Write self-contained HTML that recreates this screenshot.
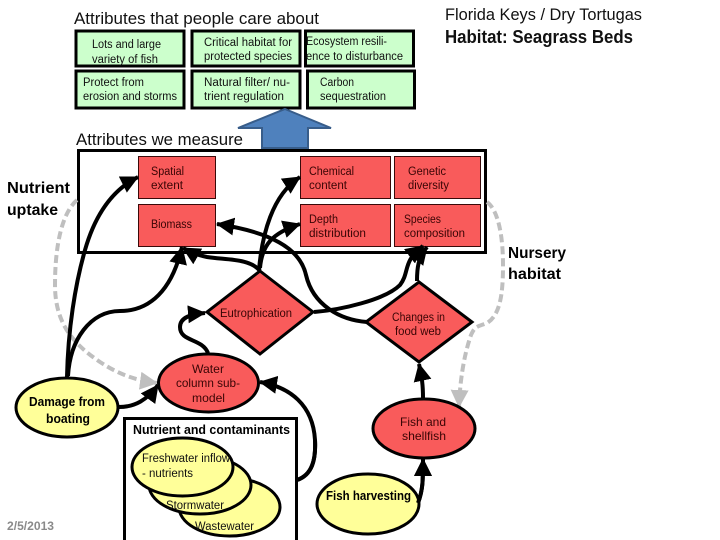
<!DOCTYPE html>
<html><head><meta charset="utf-8">
<style>html,body{margin:0;padding:0;background:#fff}svg{display:block}
text{font-family:"Liberation Sans",sans-serif;fill:#111}
.s{font-size:11.5px}.r{font-size:11.5px;fill:#3a0505}.h{font-size:17px}.b{font-size:15.5px;font-weight:bold;fill:#000}.m{font-size:13px;font-weight:bold;fill:#000}
</style></head><body>
<svg width="720" height="540" viewBox="0 0 720 540" xmlns="http://www.w3.org/2000/svg">
<defs>
<marker id="a" markerUnits="userSpaceOnUse" markerWidth="20" markerHeight="18" refX="17" refY="9" orient="auto"><path d="M0,0L18,9L0,18z" fill="#000"/></marker>
<marker id="g" markerUnits="userSpaceOnUse" markerWidth="20" markerHeight="18" refX="17" refY="9" orient="auto"><path d="M0,0L18,9L0,18z" fill="#bfbfbf"/></marker>
</defs>
<rect width="720" height="540" fill="#fff"/>

<g fill="#ccffcc" stroke="#000" stroke-width="3">
<rect x="76" y="31" width="108" height="35"/>
<rect x="192" y="31" width="108" height="35"/>
<rect x="305.500" y="31" width="108" height="35"/>
<rect x="76" y="71" width="108" height="37"/>
<rect x="192" y="71" width="108" height="37"/>
<rect x="307.500" y="71" width="107" height="37"/>
</g>
<path d="M285,109L331,128H308V148H262V128H238z" fill="#4f81bd" stroke="#385d8a" stroke-width="2"/>

<rect x="78.500" y="150.500" width="407" height="102" fill="#fff" stroke="#000" stroke-width="3"/>
<g fill="#f95b5b" stroke="#3a0a0a" stroke-width="1">
<rect x="138.500" y="156.500" width="77" height="42"/>
<rect x="138.500" y="204.500" width="77" height="42"/>
<rect x="300.500" y="156.500" width="90" height="42"/>
<rect x="300.500" y="204.500" width="90" height="42"/>
<rect x="394.500" y="156.500" width="86" height="42"/>
<rect x="394.500" y="204.500" width="86" height="42"/>
</g>

<g fill="none" stroke="#bfbfbf" stroke-width="4" stroke-dasharray="8 4">
<path d="M77,200C62,213 55,245 55,285C55,325 75,345 100,362C120,375 135,380 157,383" marker-end="url(#g)"/>
<path d="M487,202C498,210 503,235 503,265C503,295 500,315 487,323C477,327 475,326 471,335C464,355 460,380 459,407" marker-end="url(#g)"/>
</g>

<g fill="none" stroke="#000" stroke-width="4">
<path d="M67,377C68,330 75,285 85,250C95,215 112,190 138,177" marker-end="url(#a)"/>
<path d="M68,376C70,340 90,311 120,311C150,311 172,290 182,247" marker-end="url(#a)"/>
<path d="M260,271C250,258 225,260 207,257C197,255 190,252 183,248" marker-end="url(#a)"/>
<path d="M259,270C262,235 272,195 300,177" marker-end="url(#a)"/>
<path d="M260,268C262,245 272,233 300,224" marker-end="url(#a)"/>
<path d="M367,322C340,320 313,305 306,275C300,248 270,232 217,224" marker-end="url(#a)"/>
<path d="M314,312C340,310 385,300 400,285C410,272 402,262 423,246" marker-end="url(#a)"/>
<path d="M417,281C417,268 418,258 427,247" marker-end="url(#a)"/>
<path d="M208,353C202,338 180,342 180,327C180,317 192,314 205,313" marker-end="url(#a)"/>
<path d="M119,407C135,407 147,400 158,385" marker-end="url(#a)"/>
<path d="M297,480C312,475 316,460 315,440C313,405 290,387 260,382" marker-end="url(#a)"/>
<path d="M423,398C423,385 422,378 419,364" marker-end="url(#a)"/>
<path d="M418,503C423,490 423,480 423,459" marker-end="url(#a)"/>
</g>

<g fill="#f95b5b" stroke="#000" stroke-width="3">
<path d="M260,271L313,312L260,354L207,312z"/>
<path d="M419,282L472,322L419,362L366,322z"/>
<ellipse cx="208.500" cy="383" rx="50" ry="29"/>
<ellipse cx="424" cy="428.500" rx="51" ry="29.500"/>
</g>
<rect x="124.500" y="418.500" width="172" height="130" fill="#fff" stroke="#000" stroke-width="3"/>
<path d="M297,480C312,475 316,460 315,440" fill="none" stroke="#000" stroke-width="4"/>
<g fill="#ffff99" stroke="#000" stroke-width="3">
<ellipse cx="67" cy="407.500" rx="51" ry="29.500"/>
<ellipse cx="229.500" cy="507" rx="50.500" ry="29"/>
<ellipse cx="200" cy="485" rx="51" ry="29"/>
<ellipse cx="182.500" cy="467" rx="50.500" ry="29"/>
<ellipse cx="368" cy="504" rx="51" ry="30"/>
</g>
<path d="M418,503C423,490 423,480 423,459" fill="none" stroke="#000" stroke-width="4" marker-end="url(#a)"/>

<text class="h" x="74" y="24" textLength="245" lengthAdjust="spacingAndGlyphs">Attributes that people care about</text>
<text class="h" x="445" y="20" textLength="197" lengthAdjust="spacingAndGlyphs">Florida Keys / Dry Tortugas</text>
<text x="445" y="43" font-size="18" font-weight="bold" fill="#000" textLength="188" lengthAdjust="spacingAndGlyphs">Habitat: Seagrass Beds</text>
<text class="h" x="76" y="145" textLength="167" lengthAdjust="spacingAndGlyphs">Attributes we measure</text>

<text class="s" x="92" y="48" textLength="69" lengthAdjust="spacingAndGlyphs">Lots and large</text>
<text class="s" x="92" y="63" textLength="66" lengthAdjust="spacingAndGlyphs">variety of fish</text>
<text class="s" x="204" y="46" textLength="88" lengthAdjust="spacingAndGlyphs">Critical habitat for</text>
<text class="s" x="204" y="60" textLength="88" lengthAdjust="spacingAndGlyphs">protected species</text>
<text class="s" x="306" y="45" textLength="81" lengthAdjust="spacingAndGlyphs">Ecosystem resili-</text>
<text class="s" x="306" y="60" textLength="97" lengthAdjust="spacingAndGlyphs">ence to disturbance</text>
<text class="s" x="83" y="86" textLength="61" lengthAdjust="spacingAndGlyphs">Protect from</text>
<text class="s" x="83" y="100" textLength="94" lengthAdjust="spacingAndGlyphs">erosion and storms</text>
<text class="s" x="204" y="86" textLength="86" lengthAdjust="spacingAndGlyphs">Natural filter/ nu-</text>
<text class="s" x="204" y="100" textLength="80" lengthAdjust="spacingAndGlyphs">trient regulation</text>
<text class="s" x="320" y="86" textLength="34" lengthAdjust="spacingAndGlyphs">Carbon</text>
<text class="s" x="320" y="100" textLength="66" lengthAdjust="spacingAndGlyphs">sequestration</text>

<text class="b" x="7" y="193" textLength="63" lengthAdjust="spacingAndGlyphs">Nutrient</text>
<text class="b" x="7" y="215" textLength="51" lengthAdjust="spacingAndGlyphs">uptake</text>
<text class="b" x="508" y="258" textLength="58" lengthAdjust="spacingAndGlyphs">Nursery</text>
<text class="b" x="508" y="279" textLength="53" lengthAdjust="spacingAndGlyphs">habitat</text>

<text class="r" x="151" y="175" textLength="33" lengthAdjust="spacingAndGlyphs">Spatial</text>
<text class="r" x="151" y="189" textLength="32" lengthAdjust="spacingAndGlyphs">extent</text>
<text class="r" x="309" y="175" textLength="45" lengthAdjust="spacingAndGlyphs">Chemical</text>
<text class="r" x="309" y="189" textLength="38" lengthAdjust="spacingAndGlyphs">content</text>
<text class="r" x="408" y="175" textLength="38" lengthAdjust="spacingAndGlyphs">Genetic</text>
<text class="r" x="408" y="189" textLength="41" lengthAdjust="spacingAndGlyphs">diversity</text>
<text class="r" x="151" y="228" textLength="41" lengthAdjust="spacingAndGlyphs">Biomass</text>
<text class="r" x="309" y="223" textLength="29" lengthAdjust="spacingAndGlyphs">Depth</text>
<text class="r" x="309" y="237" textLength="57" lengthAdjust="spacingAndGlyphs">distribution</text>
<text class="r" x="404" y="223" textLength="37" lengthAdjust="spacingAndGlyphs">Species</text>
<text class="r" x="404" y="237" textLength="61" lengthAdjust="spacingAndGlyphs">composition</text>
<text class="r" x="220" y="317" textLength="72" lengthAdjust="spacingAndGlyphs">Eutrophication</text>
<text class="r" x="392" y="321" textLength="53" lengthAdjust="spacingAndGlyphs">Changes in</text>
<text class="r" x="395" y="335" textLength="46" lengthAdjust="spacingAndGlyphs">food web</text>
<text class="r" x="192" y="373" font-size="12" style="font-size:12px" textLength="32" lengthAdjust="spacingAndGlyphs">Water</text>
<text class="r" x="176" y="387" style="font-size:12px" textLength="64" lengthAdjust="spacingAndGlyphs">column sub-</text>
<text class="r" x="192" y="402" style="font-size:12px" textLength="33" lengthAdjust="spacingAndGlyphs">model</text>
<text class="r" x="400" y="426" style="font-size:12px" textLength="46" lengthAdjust="spacingAndGlyphs">Fish and</text>
<text class="r" x="402" y="440" style="font-size:12px" textLength="44" lengthAdjust="spacingAndGlyphs">shellfish</text>

<text class="m" x="29" y="406" textLength="76" lengthAdjust="spacingAndGlyphs">Damage from</text>
<text class="m" x="46" y="423" textLength="44" lengthAdjust="spacingAndGlyphs">boating</text>
<text class="m" x="133" y="434" textLength="157" lengthAdjust="spacingAndGlyphs">Nutrient and contaminants</text>
<text class="m" x="326" y="500" textLength="85" lengthAdjust="spacingAndGlyphs">Fish harvesting</text>
<text class="s" x="142" y="462" textLength="88" lengthAdjust="spacingAndGlyphs">Freshwater inflow</text>
<text class="s" x="142" y="477" textLength="51" lengthAdjust="spacingAndGlyphs">- nutrients</text>
<text class="s" x="166" y="509" textLength="58" lengthAdjust="spacingAndGlyphs">Stormwater</text>
<text class="s" x="195" y="530" textLength="59" lengthAdjust="spacingAndGlyphs">Wastewater</text>
<text x="7" y="530" font-size="12" font-weight="bold" style="fill:#8a8a8a" textLength="47" lengthAdjust="spacingAndGlyphs">2/5/2013</text>
</svg>
</body></html>
